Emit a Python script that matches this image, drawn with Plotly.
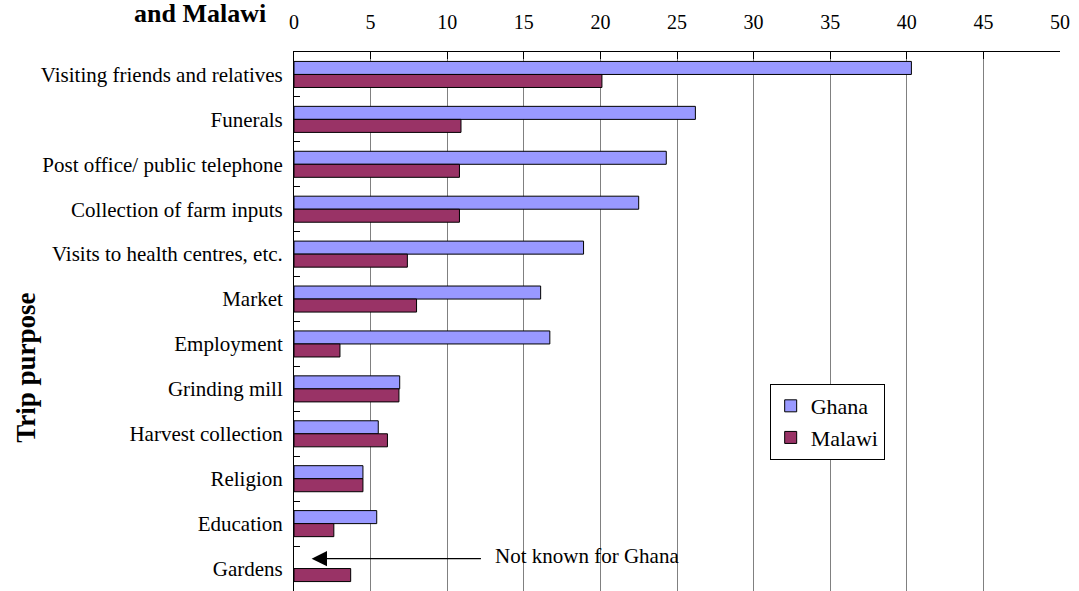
import plotly.graph_objects as go

categories = [
    "Visiting friends and relatives",
    "Funerals",
    "Post office/ public telephone",
    "Collection of farm inputs",
    "Visits to health centres, etc.",
    "Market",
    "Employment",
    "Grinding mill",
    "Harvest collection",
    "Religion",
    "Education",
    "Gardens",
]
ghana = [40.3, 26.2, 24.3, 22.5, 18.9, 16.1, 16.7, 6.9, 5.5, 4.5, 5.4, None]
malawi = [20.1, 10.9, 10.8, 10.8, 7.4, 8.0, 3.0, 6.85, 6.1, 4.5, 2.6, 3.7]
x_ticks = [0, 5, 10, 15, 20, 25, 30, 35, 40, 45, 50]

FONT = "Liberation Serif, Times New Roman, serif"

fig = go.Figure()
fig.add_trace(go.Bar(
    y=categories, x=ghana, name="Ghana", orientation="h",
    marker=dict(color="#9999FF", line=dict(color="black", width=1)),
))
fig.add_trace(go.Bar(
    y=categories, x=malawi, name="Malawi", orientation="h",
    marker=dict(color="#993366", line=dict(color="black", width=1)),
))

fig.update_layout(
    width=1079, height=591,
    margin=dict(l=294, r=19, t=52, b=0),
    paper_bgcolor="white", plot_bgcolor="white",
    barmode="group", bargap=0.42, bargroupgap=0,
    font=dict(family=FONT, size=21, color="black"),
    showlegend=True,
    legend=dict(
        x=0.621, y=0.384, xanchor="left", yanchor="top",
        bgcolor="white", bordercolor="black", borderwidth=1,
        font=dict(family=FONT, size=22, color="black"),
        tracegroupgap=0, itemwidth=30,
    ),
)
fig.update_xaxes(
    side="top", range=[0, 50], tickvals=x_ticks,
    ticktext=[str(v) for v in x_ticks],
    showgrid=True, gridcolor="#808080", gridwidth=1,
    showline=True, linecolor="black", linewidth=1,
    ticks="inside", ticklen=7, tickcolor="black",
    ticklabelstandoff=14, zeroline=False,
    tickfont=dict(family=FONT, size=20),
)
fig.update_yaxes(
    autorange="reversed", showgrid=False,
    showline=True, linecolor="black", linewidth=1,
    ticks="inside", tickson="boundaries", ticklen=6, tickcolor="black",
    ticklabelstandoff=6,
    tickfont=dict(family=FONT, size=21),
)

# Title
fig.add_annotation(
    text="<b>and Malawi</b>", xref="paper", yref="paper",
    x=-0.1227, y=1, xanchor="center", yanchor="bottom", yshift=22,
    showarrow=False, font=dict(family=FONT, size=26, color="black"),
)
# Y axis title
fig.add_annotation(
    text="<b>Trip purpose</b>", xref="paper", yref="paper",
    x=-0.35, y=0.414, xanchor="center", yanchor="middle",
    textangle=-90, showarrow=False,
    font=dict(family=FONT, size=27, color="black"),
)
# Arrow annotation
fig.add_annotation(
    x=1.15, y=10.78, xref="x", yref="y",
    ax=12.3, ay=10.78, axref="x", ayref="y",
    text="", showarrow=True, arrowhead=2, arrowsize=2.2,
    arrowwidth=1.4, arrowcolor="black", standoff=0, startstandoff=0,
)
fig.add_annotation(
    x=13.0, y=10.72, xref="x", yref="y", xanchor="left", yanchor="middle",
    text="Not known for Ghana", showarrow=False,
    font=dict(family=FONT, size=21, color="black"),
)

fig.write_html("out.html")
